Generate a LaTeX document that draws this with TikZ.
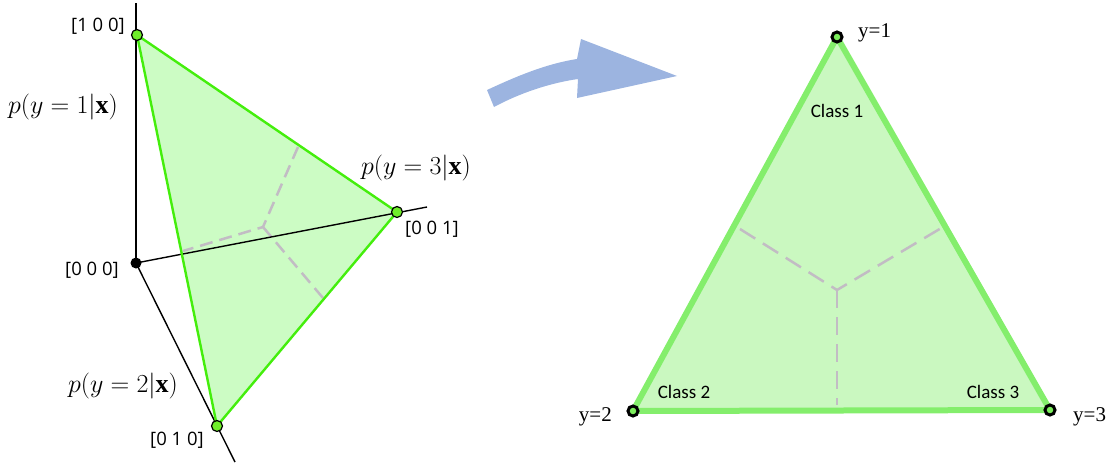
\documentclass[tikz,border=0pt]{standalone}
\usepackage{fix-cm}
\usepackage{fontspec}
\setmainfont{Liberation Serif}
\newfontfamily\lblfont{Open Sans}
\newfontfamily\clsfont{Carlito}
\definecolor{lfill}{HTML}{CCFCC4}
\definecolor{ledge}{HTML}{44EE0C}
\definecolor{vgreen}{HTML}{6FEE2A}
\definecolor{rfill}{HTML}{CAF8C0}
\definecolor{redge}{HTML}{84EE6C}
\definecolor{rvgreen}{HTML}{7CEE5C}
\definecolor{sepgray}{HTML}{C2BCC4}
\definecolor{arrowblue}{HTML}{9CB4E0}
\begin{document}
\begin{tikzpicture}[x=1pt,y=-1pt,
  axis/.style={black, line width=1.4pt},
  gedge/.style={draw=ledge, line width=2.4pt, line join=round},
  redgestyle/.style={draw=redge, line width=6pt, line join=round},
  sepl/.style={draw=sepgray, line width=2.5pt, dash pattern=on 13pt off 7pt},
  sepr/.style={draw=sepgray, line width=2.5pt, dash pattern=on 18pt off 9pt},
  vtx/.style={circle, draw=black, fill=vgreen, line width=1.2pt, inner sep=0pt, minimum size=11pt},
  odot/.style={circle, fill=black, inner sep=0pt, minimum size=11pt},
  rvtx/.style={circle, draw=black, fill=rvgreen, line width=3pt, inner sep=0pt, minimum size=10pt},
  blbl/.style={font=\lblfont\fontsize{18.5}{20}\selectfont, inner sep=0pt},
  mlbl/.style={font=\fontsize{26}{30}\selectfont, inner sep=0pt},
  clbl/.style={font=\clsfont\fontsize{19}{22}\selectfont, inner sep=0pt},
  ylbl/.style={font=\fontsize{21}{24}\selectfont, inner sep=0pt}]
\useasboundingbox (0,0) rectangle (1111,463);

% ---------- left: 3D simplex ----------
\coordinate (pA) at (137,35);
\coordinate (pB) at (217,426);
\coordinate (pC) at (397,212);
\coordinate (pO) at (136,263);
\coordinate (ztop) at (136,3);
\coordinate (zx) at (427,207);
\coordinate (zy) at (235,462);
\coordinate (lc) at (263,227);
\coordinate (le1) at (298,147);
\coordinate (le2) at (183,251);
\coordinate (le3) at (323,298);

\fill[lfill] (pA) -- (pB) -- (pC) -- cycle;
\draw[sepl] (le1) -- (lc) -- (le2);
\draw[sepl] (lc) -- (le3);
\draw[axis] (ztop) -- (pO);
\draw[axis] (pO) -- (zx);
\draw[axis] (pO) -- (zy);
\draw[gedge] (pA) -- (pB) -- (pC) -- cycle;

\node[vtx] (A) at (pA) {};
\node[vtx] (B) at (pB) {};
\node[vtx] (C) at (pC) {};
\node[odot] (O) at (pO) {};

\node[blbl] (lA) at (98,26) {[1 0 0]};
\node[blbl] (lO) at (92,270) {[0 0 0]};
\node[blbl] (lC) at (432,229) {[0 0 1]};
\node[blbl] (lB) at (177,440) {[0 1 0]};

\node[mlbl] (m1) at (63,107) {$p(y=1|\mathbf{x})$};
\node[mlbl] (m3) at (416,168) {$p(y=3|\mathbf{x})$};
\node[mlbl] (m2) at (123,386) {$p(y=2|\mathbf{x})$};

% ---------- arrow ----------
\fill[arrowblue] (487,90) .. controls (515,77) and (545,64) .. (577,59)
  -- (581,39) -- (677,76) -- (577,98) -- (578,79)
  .. controls (550,83) and (520,93) .. (494,107) -- cycle;

% ---------- right: 2D simplex ----------
\coordinate (q1) at (837,37);
\coordinate (q2) at (633,411);
\coordinate (q3) at (1050,410);
\coordinate (rc) at (837,290);
\coordinate (re1) at (740,229);
\coordinate (re2) at (943,227);
\coordinate (re3) at (837,405);

\fill[rfill] (q1) -- (q2) -- (q3) -- cycle;
\draw[sepr] (re1) -- (rc) -- (re2);
\draw[sepr] (rc) -- (re3);
\draw[redgestyle] (q1) -- (q2) -- (q3) -- cycle;

\node[rvtx] (Q1) at (q1) {};
\node[rvtx] (Q2) at (q2) {};
\node[rvtx] (Q3) at (q3) {};

\node[ylbl, anchor=base west] (y1) at (858,37) {y=1};
\node[ylbl, anchor=base east] (y2) at (612,421) {y=2};
\node[ylbl, anchor=base west] (y3) at (1073,421) {y=3};

\node[clbl] (c1) at (837,111) {Class 1};
\node[clbl] (c2) at (684,392) {Class 2};
\node[clbl] (c3) at (993,392) {Class 3};
\end{tikzpicture}
\end{document}
